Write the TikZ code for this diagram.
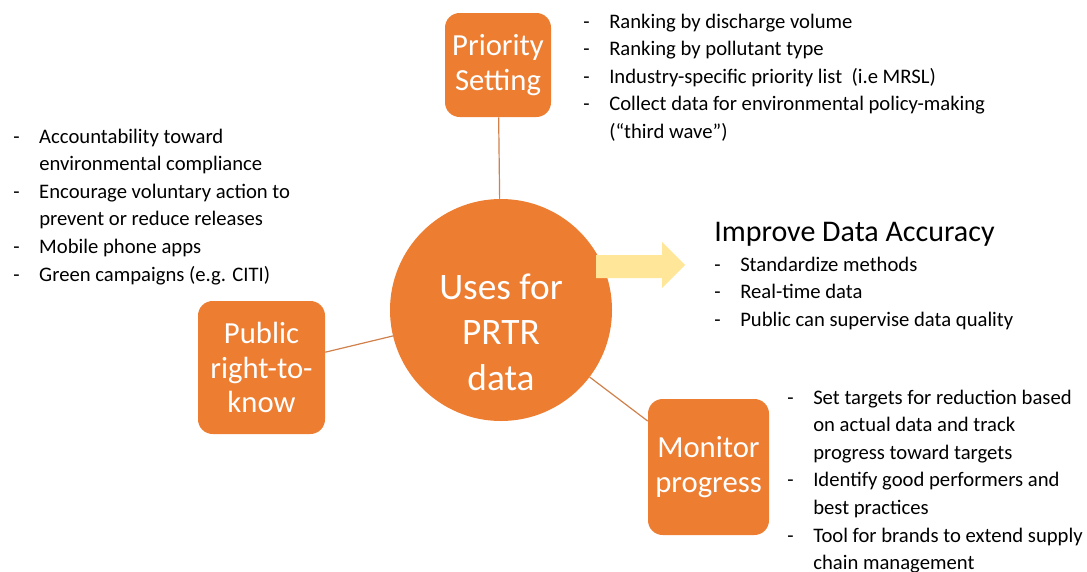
\documentclass[tikz,border=0pt]{standalone}
\usepackage{fontspec}
\setmainfont{Carlito}
\usepackage{xcolor}
\usetikzlibrary{calc,positioning}
\definecolor{prtrorange}{HTML}{ED7D31}
\definecolor{linkbrown}{HTML}{D0804A}
\definecolor{arrowyellow}{HTML}{FFE699}
\begin{document}
\begin{tikzpicture}[x=0.75pt,y=-0.75pt,
  usebox/.style={rectangle, rounded corners=11pt, fill=prtrorange, text=white,
    align=center, font=\fontsize{23}{26}\selectfont, inner sep=0pt},
  bigcircle/.style={circle, fill=prtrorange, minimum size=166.5pt, inner sep=0pt},
  circletext/.style={text=white, align=center, inner sep=0pt, font=\fontsize{28}{34}\selectfont},
  link/.style={draw=linkbrown, line width=0.9pt},
  bullets/.style={anchor=base west, inner sep=0pt, font=\fontsize{15.5}{20.7}\selectfont}]

\useasboundingbox (0,0) rectangle (1087,571);

\node[bigcircle] (uses) at (501,310) {};
\node[circletext] (usestext) at ($(uses)+(0,22)$) {Uses for\\PRTR\\data};

\node[usebox, minimum width=79.5pt, minimum height=78pt] (prio) at (498,65) {Priority\\Setting};
\node[usebox, minimum width=95.25pt, minimum height=99.75pt] (public) at (261.5,367.5) {Public\\right-to-\\know};
\node[usebox, minimum width=90.75pt, minimum height=102pt] (monitor) at (708.5,467) {Monitor\\progress};

\draw[link] (prio) -- (uses);
\draw[link] (public) -- (uses);
\draw[link] (monitor) -- (uses);

% arrow towards data accuracy
\fill[arrowyellow] (596,255) -- (662,255) -- (662,242) -- (685,265) -- (662,288) -- (662,278) -- (596,278) -- cycle;

\node[anchor=base west, inner sep=0pt, font=\fontsize{22.5}{27}\selectfont] (accuracy) at (714,241) {Improve Data Accuracy};

\node[bullets] (prionotes) at (583,28) {\begin{tabular}[t]{@{}p{19.5pt}@{}l@{}}
- & Ranking by discharge volume\\
- & Ranking by pollutant type\\
- & Industry-specific priority list\ \ (i.e MRSL)\\
- & Collect data for environmental policy-making\\
  & (“third wave”)
\end{tabular}};

\node[bullets] (publicnotes) at (13,143) {\begin{tabular}[t]{@{}p{19.5pt}@{}l@{}}
- & Accountability toward\\
  & environmental compliance\\
- & Encourage voluntary action to\\
  & prevent or reduce releases\\
- & Mobile phone apps\\
- & Green campaigns (e.g. CITI)
\end{tabular}};

\node[bullets] (accnotes) at (714,271) {\begin{tabular}[t]{@{}p{19.5pt}@{}l@{}}
- & Standardize methods\\
- & Real-time data\\
- & Public can supervise data quality
\end{tabular}};

\node[bullets] (monnotes) at (787,404) {\begin{tabular}[t]{@{}p{19.5pt}@{}l@{}}
- & Set targets for reduction based\\
  & on actual data and track\\
  & progress toward targets\\
- & Identify good performers and\\
  & best practices\\
- & Tool for brands to extend supply\\
  & chain management
\end{tabular}};

\end{tikzpicture}
\end{document}
